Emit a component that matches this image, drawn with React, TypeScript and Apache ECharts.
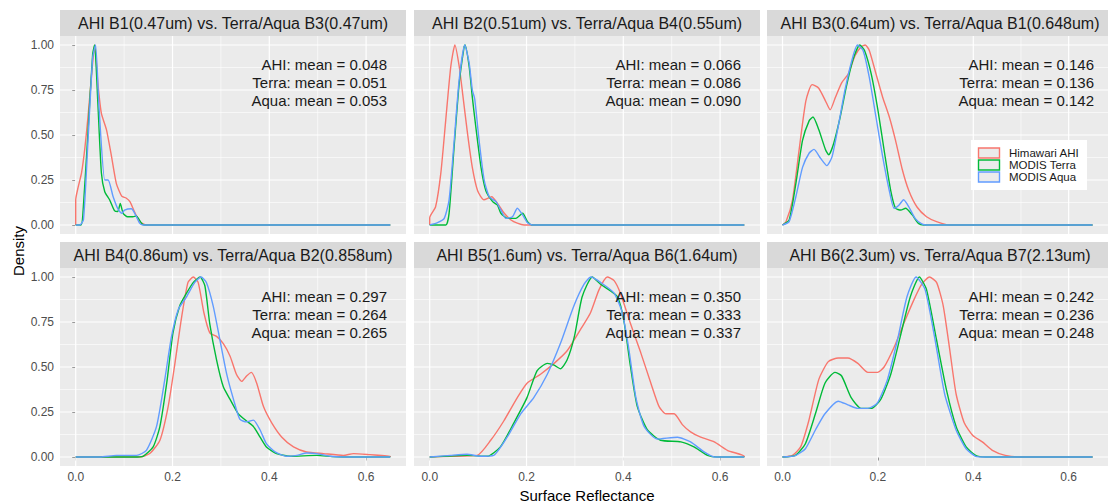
import React, { useEffect, useRef } from "react";
import * as echarts from "echarts";

const panelTitles = [
  "AHI B1(0.47um) vs. Terra/Aqua B3(0.47um)",
  "AHI B2(0.51um) vs. Terra/Aqua B4(0.55um)",
  "AHI B3(0.64um) vs. Terra/Aqua B1(0.648um)",
  "AHI B4(0.86um) vs. Terra/Aqua B2(0.858um)",
  "AHI B5(1.6um) vs. Terra/Aqua B6(1.64um)",
  "AHI B6(2.3um) vs. Terra/Aqua B7(2.13um)",
];
const meanTexts = [
  ["AHI: mean = 0.048", "Terra: mean = 0.051", "Aqua: mean = 0.053"],
  ["AHI: mean = 0.066", "Terra: mean = 0.086", "Aqua: mean = 0.090"],
  ["AHI: mean = 0.146", "Terra: mean = 0.136", "Aqua: mean = 0.142"],
  ["AHI: mean = 0.297", "Terra: mean = 0.264", "Aqua: mean = 0.265"],
  ["AHI: mean = 0.350", "Terra: mean = 0.333", "Aqua: mean = 0.337"],
  ["AHI: mean = 0.242", "Terra: mean = 0.236", "Aqua: mean = 0.248"],
];
const seriesNames = ["Himawari AHI", "MODIS Terra", "MODIS Aqua"];
const seriesColors = ["#F8766D", "#00BA38", "#619CFF"];
const xTicks = [0, 0.2, 0.4, 0.6];
const xMinorTicks = [0.1, 0.3, 0.5];
const yTicks = [0, 0.25, 0.5, 0.75, 1];
const yMinorTicks = [0.125, 0.375, 0.625, 0.875];
const xLimits = [-0.0325, 0.6825];
const yLimits = [-0.05, 1.05];
const xTitle = "Surface Reflectance";
const yTitle = "Density";

// Panel 1: B1
const b1Ahi = [[0,0],[0,0.14],[0.005,0.21],[0.012,0.29],[0.019,0.43],[0.026,0.62],[0.033,0.84],[0.039,1.0],[0.046,0.78],[0.053,0.62],[0.0635,0.53],[0.074,0.38],[0.084,0.23],[0.095,0.16],[0.104,0.15],[0.112,0.13],[0.122,0.07],[0.132,0.02],[0.146,0],[0.65,0]];
const b1Terra = [[0,0],[0.011,0],[0.0145,0.05],[0.025,0.5],[0.035,0.95],[0.039,1.0],[0.0455,0.69],[0.053,0.29],[0.06,0.185],[0.07,0.14],[0.08,0.08],[0.087,0.075],[0.092,0.12],[0.098,0.065],[0.107,0.046],[0.118,0.046],[0.125,0.05],[0.136,0.01],[0.142,0],[0.65,0]];
const b1Aqua = [[0,0],[0.008,0],[0.016,0.03],[0.025,0.45],[0.035,0.93],[0.041,1.0],[0.048,0.66],[0.06,0.25],[0.067,0.25],[0.077,0.16],[0.087,0.09],[0.095,0.065],[0.101,0.083],[0.115,0.09],[0.122,0.065],[0.132,0.01],[0.139,0],[0.65,0]];
// Panel 2: B2
const b2Ahi = [[0,0],[0,0.04],[0.012,0.1],[0.023,0.29],[0.033,0.58],[0.0435,0.88],[0.052,1.0],[0.061,0.88],[0.068,0.73],[0.078,0.51],[0.088,0.32],[0.099,0.19],[0.112,0.14],[0.128,0.157],[0.14,0.12],[0.154,0.065],[0.168,0.028],[0.181,0.01],[0.195,0],[0.65,0]];
const b2Terra = [[0,0],[0.033,0],[0.04,0.065],[0.05,0.42],[0.061,0.79],[0.071,0.99],[0.073,1.0],[0.0815,0.88],[0.088,0.71],[0.095,0.55],[0.106,0.32],[0.116,0.19],[0.13,0.13],[0.14,0.11],[0.147,0.065],[0.161,0.037],[0.178,0.037],[0.192,0.065],[0.202,0.019],[0.212,0],[0.65,0]];
const b2Aqua = [[0,0],[0.016,0.013],[0.03,0.037],[0.04,0.14],[0.05,0.45],[0.061,0.81],[0.0725,1.0],[0.0815,0.9],[0.088,0.75],[0.093,0.7],[0.102,0.47],[0.1125,0.25],[0.123,0.157],[0.137,0.13],[0.147,0.083],[0.157,0.037],[0.171,0.046],[0.181,0.093],[0.192,0.056],[0.202,0.013],[0.212,0],[0.65,0]];
// Panel 3: B3
const b3Ahi = [[0,0],[0.0075,0.019],[0.021,0.14],[0.035,0.42],[0.049,0.69],[0.062,0.78],[0.076,0.76],[0.09,0.69],[0.1,0.64],[0.111,0.71],[0.124,0.79],[0.138,0.84],[0.152,0.94],[0.165,0.99],[0.1735,1.0],[0.182,0.97],[0.196,0.84],[0.21,0.71],[0.224,0.6],[0.237,0.47],[0.251,0.31],[0.265,0.19],[0.282,0.1],[0.302,0.046],[0.323,0.019],[0.35,0],[0.65,0]];
const b3Terra = [[0,0],[0.014,0.028],[0.028,0.23],[0.042,0.47],[0.056,0.58],[0.064,0.6],[0.076,0.53],[0.09,0.42],[0.097,0.39],[0.107,0.45],[0.121,0.6],[0.134,0.77],[0.148,0.92],[0.162,1.0],[0.172,0.97],[0.186,0.84],[0.2,0.64],[0.214,0.4],[0.227,0.19],[0.237,0.093],[0.248,0.083],[0.258,0.093],[0.272,0.056],[0.285,0.009],[0.296,0],[0.65,0]];
const b3Aqua = [[0,0],[0.014,0.019],[0.028,0.157],[0.042,0.32],[0.056,0.4],[0.066,0.42],[0.08,0.37],[0.093,0.33],[0.104,0.38],[0.117,0.55],[0.131,0.75],[0.145,0.91],[0.157,1.0],[0.169,0.97],[0.182,0.82],[0.196,0.6],[0.21,0.38],[0.224,0.19],[0.234,0.093],[0.244,0.11],[0.254,0.14],[0.265,0.1],[0.278,0.037],[0.292,0.006],[0.302,0],[0.65,0]];
// Panel 4: B4
const b4Ahi = [[0,0],[0.132,0],[0.153,0.019],[0.174,0.093],[0.191,0.28],[0.205,0.52],[0.219,0.78],[0.232,0.97],[0.243,1.0],[0.253,0.97],[0.265,0.8],[0.277,0.69],[0.291,0.67],[0.305,0.63],[0.319,0.56],[0.332,0.46],[0.343,0.42],[0.353,0.45],[0.363,0.47],[0.374,0.41],[0.388,0.28],[0.405,0.19],[0.426,0.11],[0.45,0.056],[0.477,0.028],[0.512,0.019],[0.553,0.009],[0.574,0.019],[0.608,0.013],[0.65,0.004],[0.65,0]];
const b4Terra = [[0,0],[0.12,0],[0.139,0.004],[0.16,0.056],[0.174,0.17],[0.188,0.41],[0.201,0.69],[0.215,0.84],[0.229,0.91],[0.243,0.97],[0.257,1.0],[0.267,0.95],[0.277,0.74],[0.291,0.54],[0.305,0.39],[0.319,0.32],[0.336,0.24],[0.353,0.2],[0.367,0.17],[0.381,0.11],[0.394,0.056],[0.415,0.019],[0.443,0.004],[0.498,0.009],[0.53,0.002],[0.553,0],[0.65,0]];
const b4Aqua = [[0,0],[0.05,0],[0.084,0.009],[0.126,0.009],[0.146,0.037],[0.167,0.17],[0.184,0.43],[0.198,0.67],[0.212,0.82],[0.229,0.89],[0.246,0.97],[0.259,1.0],[0.27,0.97],[0.284,0.84],[0.298,0.65],[0.312,0.46],[0.326,0.32],[0.339,0.21],[0.353,0.195],[0.367,0.205],[0.381,0.15],[0.394,0.074],[0.412,0.028],[0.436,0.004],[0.457,0.009],[0.477,0.022],[0.498,0.019],[0.526,0.004],[0.553,0],[0.65,0]];
// Panel 5: B5
const b5Ahi = [[0,0],[0.043,0.004],[0.098,0.009],[0.126,0.093],[0.153,0.2],[0.181,0.33],[0.201,0.41],[0.229,0.46],[0.257,0.52],[0.284,0.59],[0.312,0.71],[0.332,0.8],[0.35,0.93],[0.367,1.0],[0.381,0.98],[0.394,0.91],[0.415,0.74],[0.436,0.58],[0.457,0.41],[0.474,0.28],[0.488,0.24],[0.505,0.24],[0.522,0.18],[0.539,0.14],[0.56,0.11],[0.588,0.084],[0.615,0.037],[0.65,0.004],[0.65,0]];
const b5Terra = [[0,0],[0.077,0.009],[0.119,0.004],[0.146,0.056],[0.174,0.19],[0.201,0.33],[0.222,0.48],[0.243,0.52],[0.257,0.51],[0.27,0.49],[0.284,0.54],[0.299,0.67],[0.315,0.89],[0.336,1.0],[0.353,0.96],[0.37,0.93],[0.388,0.89],[0.401,0.76],[0.415,0.5],[0.429,0.28],[0.45,0.15],[0.477,0.093],[0.519,0.084],[0.546,0.056],[0.574,0.009],[0.594,0],[0.65,0]];
const b5Aqua = [[0,0],[0.043,0.009],[0.077,0.015],[0.105,0.004],[0.132,0.009],[0.16,0.11],[0.188,0.24],[0.215,0.33],[0.243,0.46],[0.27,0.63],[0.298,0.84],[0.319,0.96],[0.333,1.0],[0.353,0.97],[0.381,0.91],[0.398,0.8],[0.412,0.59],[0.426,0.33],[0.443,0.17],[0.47,0.1],[0.512,0.11],[0.539,0.084],[0.567,0.028],[0.588,0],[0.65,0]];
// Panel 6: B6
const b6Ahi = [[0,0],[0.021,0.009],[0.038,0.056],[0.055,0.2],[0.076,0.43],[0.096,0.53],[0.117,0.55],[0.137,0.55],[0.158,0.52],[0.179,0.47],[0.199,0.47],[0.213,0.5],[0.234,0.61],[0.254,0.74],[0.275,0.87],[0.292,0.96],[0.308,1.0],[0.323,0.97],[0.337,0.84],[0.351,0.59],[0.364,0.35],[0.381,0.19],[0.399,0.12],[0.419,0.084],[0.44,0.037],[0.467,0.009],[0.502,0],[0.65,0]];
const b6Terra = [[0,0],[0.027,0.009],[0.048,0.074],[0.069,0.24],[0.089,0.41],[0.11,0.47],[0.124,0.45],[0.144,0.33],[0.165,0.27],[0.186,0.27],[0.206,0.32],[0.227,0.46],[0.247,0.67],[0.268,0.89],[0.287,1.0],[0.302,0.93],[0.323,0.65],[0.344,0.37],[0.364,0.17],[0.385,0.056],[0.405,0.009],[0.426,0],[0.65,0]];
const b6Aqua = [[0,0],[0.027,0.008],[0.048,0.046],[0.069,0.15],[0.089,0.24],[0.117,0.31],[0.137,0.29],[0.158,0.27],[0.179,0.27],[0.199,0.3],[0.22,0.43],[0.241,0.65],[0.261,0.89],[0.28,1.0],[0.299,0.93],[0.32,0.65],[0.34,0.35],[0.364,0.15],[0.385,0.046],[0.405,0.004],[0.426,0],[0.65,0]];

const panels = [
  [b1Ahi, b1Terra, b1Aqua],
  [b2Ahi, b2Terra, b2Aqua],
  [b3Ahi, b3Terra, b3Aqua],
  [b4Ahi, b4Terra, b4Aqua],
  [b5Ahi, b5Terra, b5Aqua],
  [b6Ahi, b6Terra, b6Aqua],
];

const FONT = "'Liberation Sans', Arial, Helvetica, sans-serif";
const LEFTS = [60, 414, 767];
const TOPS = [36, 268];
const PW = 346;
const PH = 198;
const STRIP_H = 26;

function gridLineSeries(i: number, data: number[][], width: number) {
  return {
    type: "line", xAxisIndex: i, yAxisIndex: i, silent: true, z: 1,
    data, showSymbol: false, symbol: "none", smooth: false,
    lineStyle: { color: "#FFFFFF", width },
    emphasis: { disabled: true },
  };
}

function buildOption() {
  const grid: any[] = [];
  const xAxis: any[] = [];
  const yAxis: any[] = [];
  const series: any[] = [];
  const graphic: any[] = [];

  panels.forEach((curves, i) => {
    const row = Math.floor(i / 3);
    const col = i % 3;
    const left = LEFTS[col];
    const top = TOPS[row];
    grid.push({
      left, top, width: PW, height: PH,
      show: true, backgroundColor: "#EBEBEB", borderWidth: 0,
    });
    const showX = row === 1;
    const showY = col === 0;
    xAxis.push({
      type: "value", gridIndex: i, min: xLimits[0], max: xLimits[1],
      axisLine: { show: false },
      splitLine: { show: false },
      axisTick: { show: showX, customValues: xTicks, length: 3.5, lineStyle: { color: "#333333", width: 1 } },
      axisLabel: {
        show: showX, customValues: xTicks, margin: 5,
        formatter: (v: number) => v.toFixed(1),
        color: "#4D4D4D", fontSize: 12, fontFamily: FONT,
      },
    });
    yAxis.push({
      type: "value", gridIndex: i, min: yLimits[0], max: yLimits[1],
      axisLine: { show: false },
      splitLine: { show: false },
      axisTick: { show: showY, customValues: yTicks, length: 3.5, lineStyle: { color: "#333333", width: 1 } },
      axisLabel: {
        show: showY, customValues: yTicks, margin: 6,
        formatter: (v: number) => v.toFixed(2),
        color: "#4D4D4D", fontSize: 12, fontFamily: FONT,
      },
    });
    // panel grid lines (minor then major), one series per line
    xMinorTicks.forEach((v) => series.push(gridLineSeries(i, [[v, yLimits[0]], [v, yLimits[1]]], 0.6)));
    yMinorTicks.forEach((v) => series.push(gridLineSeries(i, [[xLimits[0], v], [xLimits[1], v]], 0.6)));
    xTicks.forEach((v) => series.push(gridLineSeries(i, [[v, yLimits[0]], [v, yLimits[1]]], 1.2)));
    yTicks.forEach((v) => series.push(gridLineSeries(i, [[xLimits[0], v], [xLimits[1], v]], 1.2)));

    curves.forEach((d, k) => {
      series.push({
        type: "line", name: seriesNames[k], xAxisIndex: i, yAxisIndex: i,
        data: d, showSymbol: false, symbol: "none", smooth: 0.2, silent: true,
        z: 3 + k,
        lineStyle: { color: seriesColors[k], width: 1.4 },
      });
    });
    // strip
    graphic.push({
      type: "rect", shape: { x: left, y: top - STRIP_H, width: PW, height: STRIP_H },
      style: { fill: "#D9D9D9" }, silent: true,
    });
    graphic.push({
      type: "text", x: left + PW / 2, y: top - STRIP_H / 2,
      style: {
        text: panelTitles[i], fill: "#1A1A1A", fontSize: 16, fontFamily: FONT,
        textAlign: "center", textVerticalAlign: "middle",
      },
      silent: true,
    });
    meanTexts[i].forEach((t, j) => {
      graphic.push({
        type: "text", x: left + 327, y: top + 28 + j * 18, z: 10,
        style: {
          text: t, fill: "#1A1A1A", fontSize: 15, fontFamily: FONT,
          textAlign: "right", textVerticalAlign: "middle",
        },
        silent: true,
      });
    });
  });

  // legend in panel 3
  const lx = LEFTS[2] + 204;
  const ly = TOPS[0] + 104;
  graphic.push({
    type: "rect", shape: { x: lx, y: ly, width: 116, height: 50 },
    style: { fill: "#FFFFFF" }, z: 20, silent: true,
  });
  seriesNames.forEach((n, k) => {
    graphic.push({
      type: "rect", shape: { x: lx + 7.5, y: ly + 8 + k * 12, width: 21, height: 10 },
      style: { fill: "#EBEBEB", stroke: seriesColors[k], lineWidth: 1.4 }, z: 21, silent: true,
    });
    graphic.push({
      type: "text", x: lx + 38, y: ly + 13 + k * 12, z: 21,
      style: {
        text: n, fill: "#1A1A1A", fontSize: 11.5, fontFamily: FONT,
        textAlign: "left", textVerticalAlign: "middle",
      },
      silent: true,
    });
  });

  graphic.push({
    type: "text", x: LEFTS[1] + PW / 2, y: 495,
    style: { text: xTitle, fill: "#000000", fontSize: 15, fontFamily: FONT, textAlign: "center", textVerticalAlign: "middle" },
    silent: true,
  });
  graphic.push({
    type: "text", x: 18, y: 251, rotation: Math.PI / 2,
    style: { text: yTitle, fill: "#000000", fontSize: 15, fontFamily: FONT, textAlign: "center", textVerticalAlign: "middle" },
    silent: true,
  });

  return {
    animation: false,
    backgroundColor: "#FFFFFF",
    textStyle: { fontFamily: FONT },
    grid, xAxis, yAxis, series, graphic,
  };
}

export default function App() {
  const ref = useRef<HTMLDivElement>(null);
  useEffect(() => {
    document.body.style.margin = "0";
    if (!ref.current) return;
    const chart = echarts.init(ref.current, null, { renderer: "svg" });
    chart.setOption(buildOption() as any);
    return () => chart.dispose();
  }, []);
  return <div ref={ref} style={{ width: 1108, height: 503 }} />;
}
